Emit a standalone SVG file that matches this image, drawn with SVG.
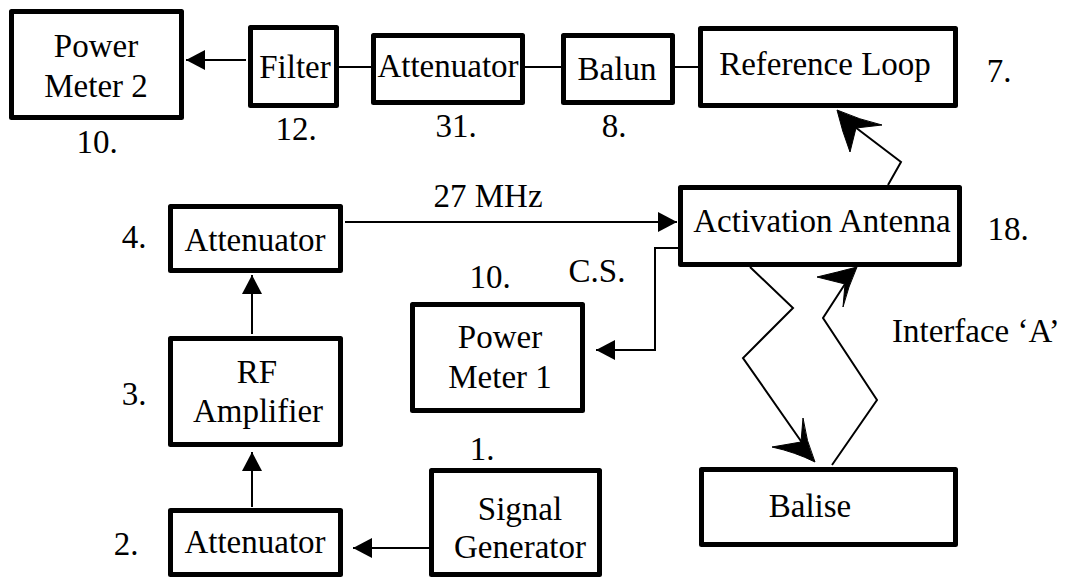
<svg xmlns="http://www.w3.org/2000/svg" width="1065" height="579" viewBox="0 0 1065 579">
<style>
.box{fill:#fff;stroke:#000;stroke-width:5;stroke-linejoin:round}
.t{font-family:"Liberation Serif","DejaVu Serif",serif;font-size:33px;fill:#000;text-anchor:middle}
.ts{text-anchor:start}
.c{fill:none;stroke:#000;stroke-width:2}
.head{fill:#000;stroke:#000;stroke-width:1;stroke-linejoin:miter}
</style>
<defs>
<marker id="tri" markerUnits="userSpaceOnUse" markerWidth="20" markerHeight="20" refX="19" refY="10" orient="auto">
<path d="M0,0 L19,10 L0,20 Z" fill="#000"/>
</marker>
</defs>
<rect width="1065" height="579" fill="#fff"/>
<g id="connectors">
<line class="c" x1="246" y1="60" x2="186" y2="60" marker-end="url(#tri)"/>
<line class="c" x1="339" y1="67" x2="371" y2="67"/>
<line class="c" x1="525" y1="67" x2="561" y2="67"/>
<line class="c" x1="675" y1="67" x2="698" y2="67"/>
<line class="c" x1="345" y1="222" x2="677" y2="222" marker-end="url(#tri)"/>
<polyline class="c" points="678,248 655,248 655,350 596,350" marker-end="url(#tri)"/>
<line class="c" x1="429" y1="548" x2="353" y2="548" marker-end="url(#tri)"/>
<line class="c" x1="252" y1="507" x2="252" y2="452" marker-end="url(#tri)"/>
<line class="c" x1="252" y1="334" x2="252" y2="275" marker-end="url(#tri)"/>
<polyline class="c" points="750,267 793,308 743,358 803,444"/>
<path class="head" d="M815,462 Q806,441 803,418 L801,442 L772,447 Q795,452 815,462 Z"/>
<polyline class="c" points="832,465 877,400 823,318 845,284"/>
<path class="head" d="M857,267 Q848,287 843,307 L845,284 L817,277 Q838,272 857,267 Z"/>
<polyline class="c" points="888,185 901,162 855,127"/>
<path class="head" d="M837,110 Q860,120 882,125 L856,128 L850,152 Q842,131 837,110 Z"/>
</g>
<g id="pm2"><rect class="box" x="11.5" y="11.5" width="170" height="106"/><text class="t" x="96" y="57">Power</text><text class="t" x="96" y="97">Meter 2</text><text class="t" x="97" y="153">10.</text></g>
<g id="filter"><rect class="box" x="250.5" y="27.5" width="86" height="78"/><text class="t" x="295" y="78">Filter</text><text class="t" x="296" y="140">12.</text></g>
<g id="att31"><rect class="box" x="373.5" y="35.5" width="149" height="67"/><text class="t" x="448" y="77">Attenuator</text><text class="t" x="456" y="137">31.</text></g>
<g id="balun"><rect class="box" x="563.5" y="35.5" width="109" height="67"/><text class="t" x="617" y="80">Balun</text><text class="t" x="614" y="137">8.</text></g>
<g id="refloop"><rect class="box" x="700.5" y="28.5" width="255" height="77"/><text class="t" x="825" y="75">Reference Loop</text><text class="t" x="999" y="82">7.</text></g>
<g id="actant"><rect class="box" x="680.5" y="187.5" width="279" height="77"/><text class="t" x="822" y="232">Activation Antenna</text><text class="t" x="1008" y="240">18.</text></g>
<g id="att4"><rect class="box" x="170.5" y="206.5" width="170" height="64"/><text class="t" x="255" y="251">Attenuator</text><text class="t" x="134" y="248">4.</text></g>
<g id="rfamp"><rect class="box" x="170.5" y="338.5" width="170" height="106"/><text class="t" x="257" y="383">RF</text><text class="t" x="258" y="422">Amplifier</text><text class="t" x="134" y="405">3.</text></g>
<g id="att2"><rect class="box" x="170.5" y="510.5" width="170" height="64"/><text class="t" x="255" y="553">Attenuator</text><text class="t" x="126" y="555">2.</text></g>
<g id="pm1"><rect class="box" x="412.5" y="304.5" width="170" height="106"/><text class="t" x="500" y="348">Power</text><text class="t" x="500" y="388">Meter 1</text><text class="t" x="490" y="288">10.</text></g>
<g id="siggen"><rect class="box" x="431.5" y="470.5" width="168" height="104"/><text class="t" x="520" y="520">Signal</text><text class="t" x="520" y="558">Generator</text><text class="t" x="482" y="460">1.</text></g>
<g id="balise"><rect class="box" x="701.5" y="469.5" width="254" height="75"/><text class="t" x="810" y="517">Balise</text></g>
<g id="labels"><text class="t" x="488" y="207">27 MHz</text><text class="t" x="597" y="282">C.S.</text><text class="t ts" x="892" y="342">Interface ‘A’</text></g>
</svg>
